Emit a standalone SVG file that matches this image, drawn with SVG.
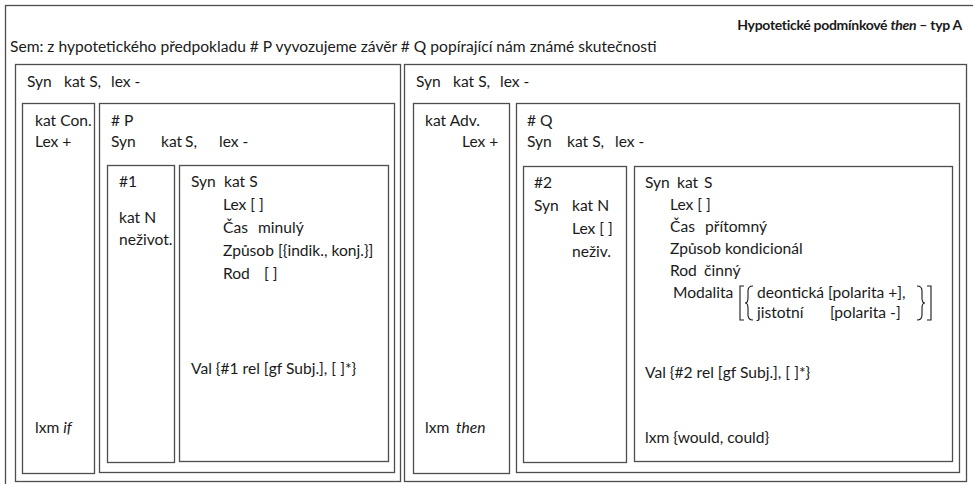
<svg xmlns="http://www.w3.org/2000/svg" width="973" height="484" viewBox="0 0 973 484">
  <style>
    .box { fill: none; stroke: #4d4d4d; stroke-width: 1.3; }
    .t { font-family: "Lato", "Liberation Sans", sans-serif; font-size: 15.6px; fill: #1a1a1a; }
    .title { font-family: "Lato", "Liberation Sans", sans-serif; font-size: 14px; font-weight: bold; letter-spacing: -0.3px; fill: #1a1a1a; }
    .i { font-style: italic; }
    .delim { fill: none; stroke: #1a1a1a; stroke-width: 1.1; }
  </style>
  <rect width="973" height="484" fill="#ffffff"/>

  <!-- outer frame and heading -->
  <g id="frame">
    <rect class="box" x="5.5" y="5.5" width="980" height="490"/>
    <text class="title" x="962" y="30" text-anchor="end">Hypotetické podmínkové <tspan class="i">then</tspan> – typ A</text>
    <text class="t" x="10" y="52">Sem: z hypotetického předpokladu # P vyvozujeme závěr # Q popírající nám známé skutečnosti</text>
  </g>

  <!-- antecedent clause (if) -->
  <g id="clause-if">
    <rect class="box" x="15.5" y="64.5" width="385" height="417"/>
    <text class="t" y="87"><tspan x="27">Syn</tspan><tspan x="64">kat S,</tspan><tspan x="111">lex -</tspan></text>
  </g>
  <g id="con-if">
    <rect class="box" x="22.5" y="103.5" width="72" height="370"/>
    <text class="t" x="35" y="126">kat Con.</text>
    <text class="t" x="35" y="147">Lex +</text>
    <text class="t" x="35" y="433">lxm <tspan class="i">if</tspan></text>
  </g>
  <g id="p-clause">
    <rect class="box" x="99.5" y="103.5" width="295" height="369"/>
    <text class="t" x="111" y="126"># P</text>
    <text class="t" y="147"><tspan x="111">Syn</tspan><tspan x="161">kat</tspan><tspan x="185">S,</tspan><tspan x="219">lex -</tspan></text>
  </g>
  <g id="p-subject">
    <rect class="box" x="107.5" y="165.5" width="67" height="297"/>
    <text class="t" x="119" y="187">#1</text>
    <text class="t" x="119" y="223">kat N</text>
    <text class="t" x="119" y="245">neživot.</text>
  </g>
  <g id="p-predicate">
    <rect class="box" x="179.5" y="165.5" width="209" height="296"/>
    <text class="t" y="187"><tspan x="191">Syn</tspan><tspan x="224">kat S</tspan></text>
    <text class="t" x="223" y="210">Lex [ ]</text>
    <text class="t" y="233"><tspan x="223">Čas</tspan><tspan x="258">minulý</tspan></text>
    <text class="t" x="223" y="256">Způsob [{indik., konj.}]</text>
    <text class="t" y="279"><tspan x="223">Rod</tspan><tspan x="264">[ ]</tspan></text>
    <text class="t" x="191" y="374">Val {#1 rel [gf Subj.], [ ]*}</text>
  </g>

  <!-- consequent clause (then) -->
  <g id="clause-then">
    <rect class="box" x="404.5" y="64.5" width="562" height="417"/>
    <text class="t" y="87"><tspan x="416">Syn</tspan><tspan x="453">kat S,</tspan><tspan x="500">lex -</tspan></text>
  </g>
  <g id="adv-then">
    <rect class="box" x="413.5" y="103.5" width="96" height="370"/>
    <text class="t" x="425" y="126">kat Adv.</text>
    <text class="t" x="462" y="147">Lex +</text>
    <text class="t" y="433"><tspan x="425">lxm</tspan><tspan class="i" x="456">then</tspan></text>
  </g>
  <g id="q-clause">
    <rect class="box" x="516.5" y="103.5" width="443" height="369"/>
    <text class="t" x="527" y="126"># Q</text>
    <text class="t" y="147"><tspan x="527">Syn</tspan><tspan x="567">kat S,</tspan><tspan x="615">lex -</tspan></text>
  </g>
  <g id="q-subject">
    <rect class="box" x="523.5" y="166.5" width="103" height="296"/>
    <text class="t" x="534" y="188">#2</text>
    <text class="t" y="211"><tspan x="534">Syn</tspan><tspan x="572">kat N</tspan></text>
    <text class="t" x="572" y="234">Lex [ ]</text>
    <text class="t" x="572" y="257">neživ.</text>
  </g>
  <g id="q-predicate">
    <rect class="box" x="634.5" y="166.5" width="318" height="295"/>
    <text class="t" y="188"><tspan x="645">Syn</tspan><tspan x="677">kat</tspan><tspan x="704">S</tspan></text>
    <text class="t" x="670" y="210">Lex [ ]</text>
    <text class="t" y="232"><tspan x="670">Čas</tspan><tspan x="705">přítomný</tspan></text>
    <text class="t" y="254"><tspan x="670">Způsob</tspan><tspan x="725">kondicionál</tspan></text>
    <text class="t" y="276"><tspan x="670">Rod</tspan><tspan x="704">činný</tspan></text>
    <text class="t" x="673" y="298">Modalita</text>
    <!-- tall bracket and brace around the two modality options -->
    <path class="delim" d="M744 286 H740 V320 H744"/>
    <path class="delim" d="M753 286 Q748 286 748 291 V298 Q748 303 745 303 Q748 303 748 308 V315 Q748 320 753 320"/>
    <text class="t" x="757" y="298">deontická [polarita +],</text>
    <text class="t" y="318"><tspan x="757">jistotní</tspan><tspan x="830">[polarita -]</tspan></text>
    <path class="delim" d="M917 286 Q922 286 922 291 V298 Q922 303 925 303 Q922 303 922 308 V315 Q922 320 917 320"/>
    <path class="delim" d="M927 286 H931 V320 H927"/>
    <text class="t" x="645" y="378">Val {#2 rel [gf Subj.],  [ ]*}</text>
    <text class="t" x="645" y="443">lxm {would, could}</text>
  </g>
</svg>
